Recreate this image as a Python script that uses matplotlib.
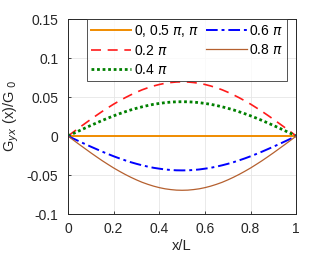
import numpy as np
import matplotlib
matplotlib.use("Agg")
import matplotlib.pyplot as plt

# values (curves are symmetric about x/L = 0.5)
x = [i * 0.025 for i in range(41)]
g_02_half = [0, 0.0055, 0.0109, 0.0162, 0.0215, 0.0266, 0.0316, 0.0363, 0.0409, 0.0451,
             0.0491, 0.0528, 0.0562, 0.0593, 0.0619, 0.0642, 0.0661, 0.0676, 0.0686, 0.0693,
             0.0695]
g_04_half = [0, 0.0035, 0.0069, 0.0103, 0.0136, 0.0168, 0.0200, 0.0230, 0.0259, 0.0286,
             0.0311, 0.0335, 0.0356, 0.0375, 0.0392, 0.0407, 0.0418, 0.0428, 0.0435, 0.0439,
             0.0440]
g_0 = [0] * 41
g_02 = g_02_half + g_02_half[-2::-1]
g_04 = g_04_half + g_04_half[-2::-1]
g_06 = [-v for v in g_04]
g_08 = [-v for v in g_02]

labels = ["0, 0.5 $\\pi$, $\\pi$", "0.2 $\\pi$", "0.4 $\\pi$", "0.6 $\\pi$", "0.8 $\\pi$"]
xticks = [0, 0.2, 0.4, 0.6, 0.8, 1]
xticklabels = ["0", "0.2", "0.4", "0.6", "0.8", "1"]
yticks = [-0.1, -0.05, 0, 0.05, 0.1, 0.15]
yticklabels = ["-0.1", "-0.05", "0", "0.05", "0.1", "0.15"]

plt.rcParams['font.family'] = ['Liberation Sans', 'DejaVu Sans']
plt.rcParams['mathtext.fontset'] = 'dejavusans'

fig = plt.figure(figsize=(3.27, 2.57), dpi=100)
ax = fig.add_axes([0.208, 0.167, 0.698, 0.759])

ax.plot(x, g_0, color="#f08c00", linewidth=1.4, label=labels[0])
ax.plot(x, g_02, color="#ff1a1a", linestyle=(0, (6, 4)), linewidth=1.2, label=labels[1])
ax.plot(x, g_04, color="#008000", linestyle=(0, (1, 1)), linewidth=2.0, label=labels[2])
ax.plot(x, g_06, color="#0000ff", linestyle=(0, (6, 2, 1.5, 2)), linewidth=1.4, label=labels[3])
ax.plot(x, g_08, color="#b5602f", linewidth=0.9, label=labels[4])

ax.set_xlim(0, 1)
ax.set_ylim(-0.1, 0.15)
ax.set_xticks(xticks)
ax.set_xticklabels(xticklabels)
ax.set_yticks(yticks)
ax.set_yticklabels(yticklabels)
ax.tick_params(direction="in", length=2.5, width=0.6, labelsize=10, colors="#262626")
ax.tick_params(axis="x", pad=6)
ax.tick_params(axis="y", pad=7)
ax.grid(True, color="#e6e6e6", linewidth=0.6)
ax.set_axisbelow(True)
for s in ax.spines.values():
    s.set_linewidth(0.7)
    s.set_color("#262626")

ax.set_xlabel("x/L", fontsize=10.5, color="#262626", labelpad=2)
ax.set_ylabel("G$_{yx}$ (x)/G$_{\\ 0}$", fontsize=10.5, color="#262626", labelpad=4)

leg = ax.legend(ncol=2, loc="upper left", bbox_to_anchor=(0.083, 1.0), fontsize=10,
                frameon=True, fancybox=False, handlelength=2.9, handletextpad=0.2,
                columnspacing=0.5, labelspacing=0.35, borderpad=0.3, borderaxespad=0)
leg.get_frame().set_edgecolor("#262626")
leg.get_frame().set_linewidth(0.7)

fig.savefig("out.png", dpi=100)
